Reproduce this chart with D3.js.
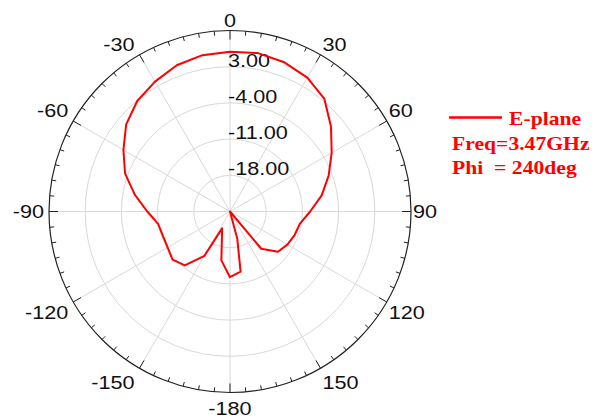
<!DOCTYPE html>
<html>
<head>
<meta charset="utf-8">
<script src="https://cdn.jsdelivr.net/npm/d3@7"></script>
<style>
  body { margin: 0; background: #fff; }
  svg { display: block; }
  .lbl { font-family: "Liberation Sans", Arial, sans-serif; font-size: 18.5px; fill: #111; }
  .leg { font-family: "Liberation Serif", "Times New Roman", serif; font-size: 18.5px; font-weight: bold; fill: #f00; white-space: pre; }
</style>
</head>
<body>
<svg id="chart" width="595" height="418"></svg>
<script>
// E-plane pattern, angle in degrees (0 = top, clockwise) and gain in dB
const angles = [-180, -170, -155, -150, -140, -130, -110, -100, -95, -90, -80, -70, -60, -50, -40, -30, -20, -10,
  0, 10, 20, 30, 40, 50, 60, 70, 80, 90, 100, 110, 120, 130, 140, 145, 155, 165, 170]
const gains = [-12.3, -15.4, -21.4, -15.1, -11.4, -10.5, -11.2, -10.9, -10.1, -9.0, -6.3, -3.4, -1.2, 1.2, 2.9, 4.0, 5.1, 5.7,
  5.9, 6.1, 5.7, 4.9, 3.4, 0.5, -2.3, -4.7, -7.0, -9.5, -11.3, -11.7, -12.2, -12.9, -15.6, -25, -25, -19.6, -13.2]

const ringValues = [-18, -11, -4, 3]
const ringLabels = ["-18.00", "-11.00", "-4.00", "3.00"]
const angleTicks = [0, 30, 60, 90, 120, 150, 180, -150, -120, -90, -60, -30]
const angleLabels = ["0", "30", "60", "90", "120", "150", "-180", "-150", "-120", "-90", "-60", "-30"]
const legendLines = ["Freq=3.47GHz", "Phi  = 240deg"]

const cx = 230, cy = 211.5, R = 181
const sx = 1.17 // text in the source is drawn a little wide

const svg = d3.select("#chart")
const g = svg.append("g").attr("transform", "translate(" + cx + "," + cy + ")")

const r = d3.scaleLinear().domain([-25, 10]).range([0, R]).clamp(true)
const rad = d => d * Math.PI / 180

// grid rings
g.selectAll(".ring")
  .data(ringValues)
  .enter().append("circle")
    .attr("class", "ring")
    .attr("r", d => r(d))
    .attr("fill", "none")
    .attr("stroke", "#d8d8d8")
    .attr("stroke-width", 1)

// spokes every 30 deg
g.selectAll(".spoke")
  .data(angleTicks)
  .enter().append("line")
    .attr("class", "spoke")
    .attr("x1", 0).attr("y1", 0)
    .attr("x2", d => Math.sin(rad(d)) * R)
    .attr("y2", d => -Math.cos(rad(d)) * R)
    .attr("stroke", "#d8d8d8")
    .attr("stroke-width", 1)

// outer circle and ticks
g.append("circle")
  .attr("r", R)
  .attr("fill", "none")
  .attr("stroke", "#222")
  .attr("stroke-width", 1.2)

g.selectAll(".tick")
  .data(d3.range(0, 360, 5))
  .enter().append("line")
    .attr("class", "tick")
    .attr("x1", d => Math.sin(rad(d)) * R)
    .attr("y1", d => -Math.cos(rad(d)) * R)
    .attr("x2", d => Math.sin(rad(d)) * (R - (d % 30 === 0 ? 9 : 4.5)))
    .attr("y2", d => -Math.cos(rad(d)) * (R - (d % 30 === 0 ? 9 : 4.5)))
    .attr("stroke", "#222")
    .attr("stroke-width", 1)

// radial labels, baseline on the ring
g.selectAll(".rlab")
  .data(ringValues)
  .enter().append("text")
    .attr("class", "lbl")
    .attr("transform", d => "translate(-2," + (-r(d)) + ") scale(" + sx + ",1)")
    .text((d, i) => ringLabels[i])

// angle labels
g.selectAll(".alab")
  .data(angleTicks)
  .enter().append("text")
    .attr("class", "lbl")
    .attr("text-anchor", d => {
      const s = Math.sin(rad(d))
      return s > 0.1 ? "start" : s < -0.1 ? "end" : "middle"
    })
    .attr("transform", d => {
      const s = Math.sin(rad(d)), c = Math.cos(rad(d))
      let x = s * R, y = -c * R
      x += s > 0.1 ? 2 : s < -0.1 ? -5 : 0
      if (c > 0.1) y -= 4
      else if (c < -0.1) y += 15.5 + 7 * c * c
      else y += 6.5
      return "translate(" + x + "," + y + ") scale(" + sx + ",1)"
    })
    .text((d, i) => angleLabels[i])

// pattern
const pts = angles.map((a, i) => [rad(a), r(gains[i])])
const line = d3.lineRadial()
  .angle(d => d[0])
  .radius(d => d[1])
  .curve(d3.curveLinearClosed)

g.append("path")
  .datum(pts)
  .attr("d", line)
  .attr("fill", "none")
  .attr("stroke", "#f00")
  .attr("stroke-width", 2)
  .attr("stroke-linejoin", "round")

// legend
const leg = svg.append("g")
leg.append("line")
  .attr("x1", 449).attr("x2", 502)
  .attr("y1", 117.5).attr("y2", 117.5)
  .attr("stroke", "#f00")
  .attr("stroke-width", 2.5)
leg.append("text")
  .attr("class", "leg")
  .attr("transform", "translate(509,125) scale(" + sx + ",1)")
  .text("E-plane")
leg.selectAll(".legline")
  .data(legendLines)
  .enter().append("text")
    .attr("class", "leg")
    .attr("transform", (d, i) => "translate(452," + (150 + i * 24) + ") scale(" + sx + ",1)")
    .text(d => d)
</script>
</body>
</html>
